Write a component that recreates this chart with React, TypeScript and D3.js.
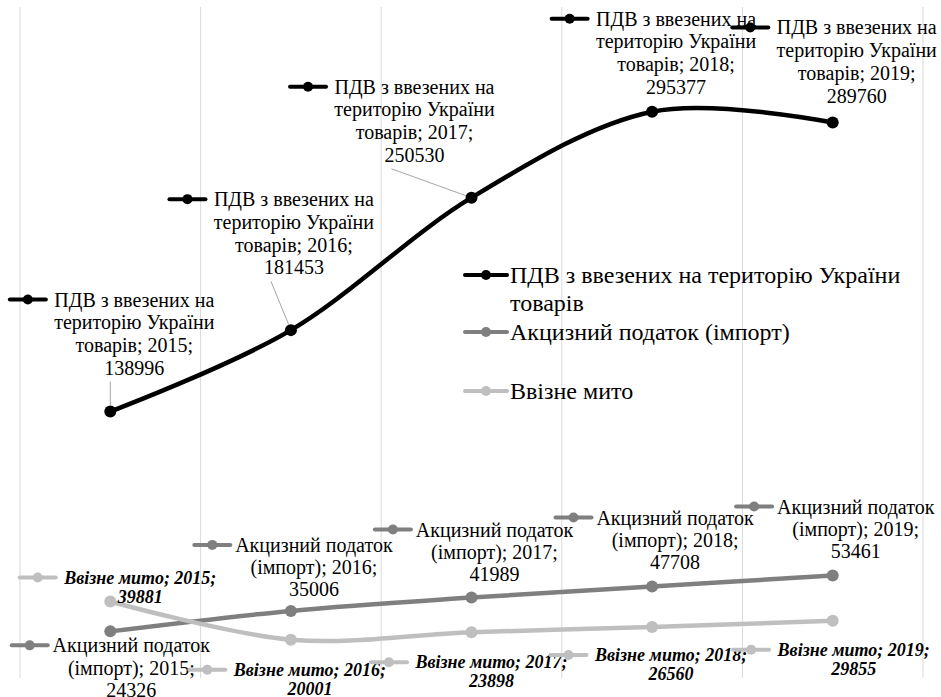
import React from 'react';
import * as d3 from 'd3';

// ---- data ----
const categories = ['2015', '2016', '2017', '2018', '2019'];
const seriesNames = [
  'ПДВ з ввезених на територію України товарів',
  'Акцизний податок (імпорт)',
  'Ввізне мито',
];
const pdvValues = [138996, 181453, 250530, 295377, 289760];
const exciseValues = [24326, 35006, 41989, 47708, 53461];
const dutyValues = [39881, 20001, 23898, 26560, 29855];
const yDomain = [0, 350000];

// ---- layout / style ----
const W = 941;
const H = 697;
const plot = { left: 20, right: 923, top: 7, bottom: 678 };
const colors = ['#000000', '#7f7f7f', '#bfbfbf'];
const SERIF = 'Liberation Serif';

type LabelPos = { dx: number; dy: number; leader?: boolean };
const labelLayouts: LabelPos[][] = [
  [
    { dx: 24, dy: -112, leader: true },
    { dx: 3, dy: -131, leader: true },
    { dx: -57, dy: -111, leader: true },
    { dx: 24, dy: -93 },
    { dx: 24, dy: -95 },
  ],
  [
    { dx: 21, dy: 14 },
    { dx: 23, dy: -66 },
    { dx: 23, dy: -68 },
    { dx: 23, dy: -69 },
    { dx: 23, dy: -69 },
  ],
  [
    { dx: 30, dy: -24 },
    { dx: 19, dy: 30 },
    { dx: 20, dy: 30 },
    { dx: 19, dy: 28 },
    { dx: 21, dy: 29 },
  ],
];
const labelFonts = [
  { size: 20, weight: 'normal', style: 'normal', lh: 22.7 },
  { size: 20, weight: 'normal', style: 'normal', lh: 22.3 },
  { size: 18, weight: 'bold', style: 'italic', lh: 19 },
];

function approxWidth(text: string, size: number): number {
  return text.length * size * 0.485;
}
function wrap(text: string, maxChars: number): string[] {
  const words = text.split(' ');
  const lines: string[] = [];
  let cur = '';
  for (const w of words) {
    const t = cur ? cur + ' ' + w : w;
    if (cur && t.length > maxChars) {
      lines.push(cur);
      cur = w;
    } else cur = t;
  }
  if (cur) lines.push(cur);
  return lines;
}

const Key = ({ x, y, color, len, r, sw }: { x: number; y: number; color: string; len: number; r: number; sw: number }) => (
  <g>
    <line x1={x} x2={x + len} y1={y} y2={y} stroke={color} strokeWidth={sw} strokeLinecap="round" />
    <circle cx={x + len / 2} cy={y} r={r} fill={color} />
  </g>
);

export default function App() {
  const x = d3.scaleBand<string>().domain(categories).range([plot.left, plot.right]);
  const y = d3.scaleLinear().domain(yDomain).range([plot.bottom, plot.top]);
  const cx = (c: string) => (x(c) as number) + x.bandwidth() / 2;
  const allSeries = [pdvValues, exciseValues, dutyValues];
  const line = d3
    .line<number>()
    .x((_, i) => cx(categories[i]))
    .y((d) => y(d))
    .curve(d3.curveCardinal.tension(0));

  const gridXs = [...categories.map((c) => x(c) as number), plot.right];

  const labels: React.ReactNode[] = [];
  allSeries.forEach((vals, si) => {
    const f = labelFonts[si];
    vals.forEach((v, i) => {
      const px = cx(categories[i]);
      const py = y(v);
      const lay = labelLayouts[si][i];
      const tx = px + lay.dx;
      const ty = py + lay.dy;
      const lines = wrap(`${seriesNames[si]}; ${categories[i]}; ${v}`, 18);
      const w0 = approxWidth(lines[0], f.size);
      const keyEnd = tx - w0 / 2 - 6;
      const lastY = ty + (lines.length - 1) * f.lh;
      let leader: React.ReactNode = null;
      if (lay.leader) {
        const lx = Math.min(px, tx - 23);
        const ly = lastY + 14;
        const ang = Math.atan2(py - ly, px - lx);
        leader = (
          <line x1={lx} y1={ly} x2={px - Math.cos(ang) * 6} y2={py - Math.sin(ang) * 6} stroke="#a6a6a6" strokeWidth={1} />
        );
      }
      labels.push(
        <g key={`l-${si}-${i}`}>
          {leader}
          <Key x={keyEnd - 36} y={ty} color={colors[si]} len={36} r={5} sw={4} />
          {lines.map((ln, k) => (
            <text
              key={k}
              x={tx}
              y={ty + k * f.lh + f.size * 0.35}
              textAnchor="middle"
              fontFamily={SERIF}
              fontSize={f.size}
              fontWeight={f.weight}
              fontStyle={f.style}
              fill="#000"
            >
              {ln}
            </text>
          ))}
        </g>
      );
    });
  });

  // legend
  const legendYs = [275, 332, 391];
  const legendX = 465;
  const legend = seriesNames.map((name, si) => {
    const lines = wrap(name, 36);
    return (
      <g key={`lg-${si}`}>
        <Key x={legendX} y={legendYs[si]} color={colors[si]} len={42} r={5} sw={4} />
        {lines.map((ln, k) => (
          <text key={k} x={legendX + 45} y={legendYs[si] + k * 28 + 8.4} fontFamily={SERIF} fontSize={24} fill="#000">
            {ln}
          </text>
        ))}
      </g>
    );
  });

  return (
    <svg width={W} height={H} style={{ position: 'absolute', left: 0, top: 0, background: '#fff' }}>
      <rect width={W} height={H} fill="#fff" />
      {gridXs.map((gx, i) => (
        <line key={i} x1={gx} x2={gx} y1={plot.top} y2={plot.bottom} stroke="#d9d9d9" strokeWidth={1} />
      ))}
      {allSeries.map((vals, si) => (
        <g key={`s-${si}`}>
          <path d={line(vals) || ''} fill="none" stroke={colors[si]} strokeWidth={4.5} strokeLinecap="round" />
          {vals.map((v, i) => (
            <circle key={i} cx={cx(categories[i])} cy={y(v)} r={6} fill={colors[si]} />
          ))}
        </g>
      ))}
      {labels}
      {legend}
    </svg>
  );
}
